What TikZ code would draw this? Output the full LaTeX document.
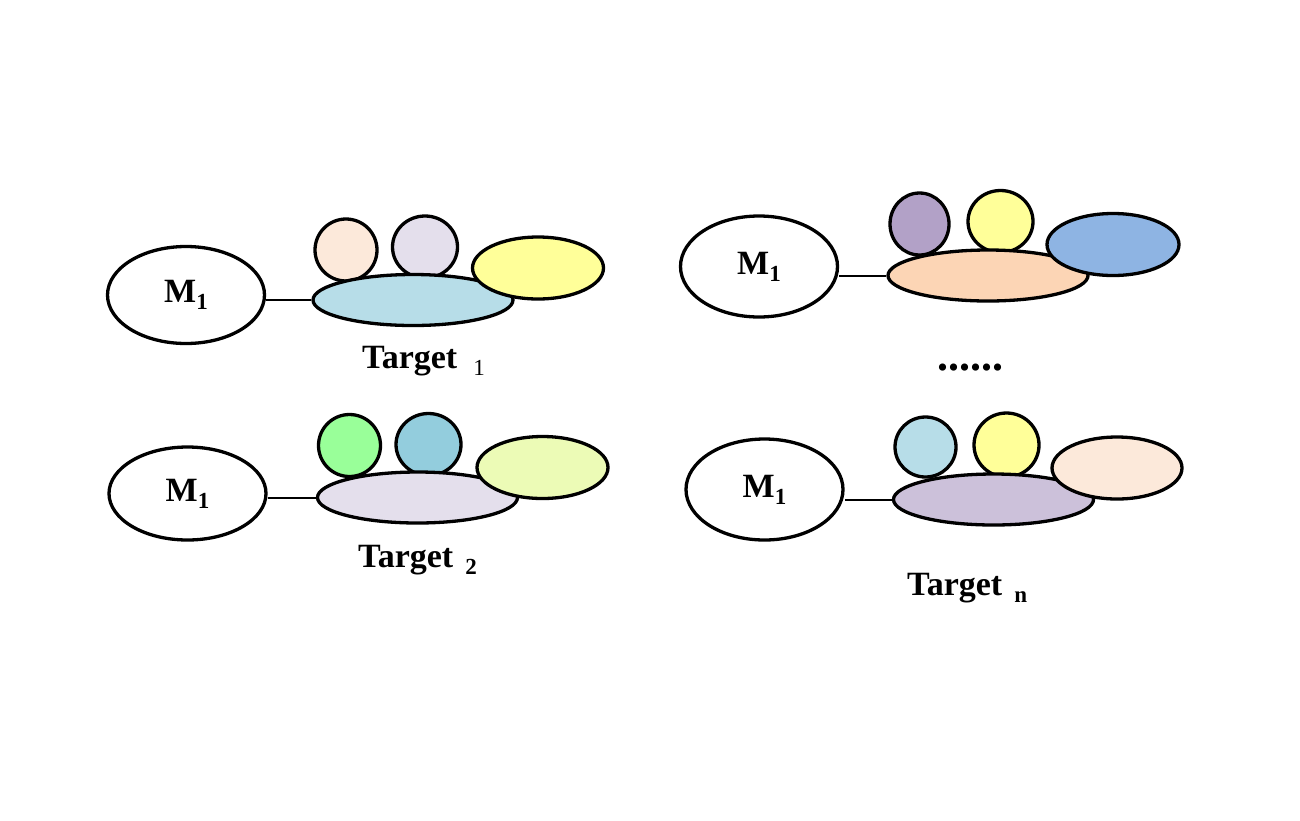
\documentclass[tikz,border=0pt]{standalone}
\usepackage{fontspec}
\setmainfont{Liberation Serif}
\usetikzlibrary{shapes.geometric,positioning}
\definecolor{cPeach}{RGB}{252,233,218}
\definecolor{cLav}{RGB}{228,223,236}
\definecolor{cSky}{RGB}{183,221,232}
\definecolor{cLemon}{RGB}{255,255,153}
\definecolor{cPlum}{RGB}{178,161,199}
\definecolor{cApricot}{RGB}{252,213,181}
\definecolor{cCorn}{RGB}{142,180,227}
\definecolor{cMint}{RGB}{153,255,153}
\definecolor{cTeal}{RGB}{147,205,221}
\definecolor{cLime}{RGB}{236,251,182}
\definecolor{cLilac}{RGB}{204,193,218}
\newcommand{\subidx}[1]{\raisebox{-7pt}{\fontsize{23}{26}\selectfont #1}}
\tikzset{
  partell/.style={ellipse,draw=black,line width=3.3pt,inner sep=0pt},
  modnode/.style={partell,fill=white,minimum width=157pt,minimum height=97pt,
                  font=\fontsize{34}{40}\selectfont\bfseries},
  basenode/.style={partell,minimum width=200pt,minimum height=51pt},
  ballnode/.style={partell,minimum width=62pt,minimum height=62pt},
  sidenode/.style={partell,minimum width=131pt,minimum height=62pt},
  tgtlabel/.style={anchor=base west,inner sep=0pt,
                   font=\fontsize{34}{40}\selectfont\bfseries},
  lnk/.style={draw=black,line width=2pt}
}

\begin{document}
\begin{tikzpicture}[x=1pt,y=-1pt]
  \useasboundingbox[fill=white] (0,0) rectangle (1300,820);

  % target 1
  \node[ballnode,fill=cPeach] (a1) at (346,250) {};
  \node[ballnode,fill=cLav,minimum width=65pt] (a2) at (425,247) {};
  \node[basenode,fill=cSky] (ba) at (413,300) {};
  \node[sidenode,fill=cLemon] (a3) at (538,268) {};
  \node[modnode] (ma) at (186,295) {M\subidx{1}};
  \node[tgtlabel] (ta) at (362,368) {Target\hspace{16pt}\subidx{\mdseries 1}};

  % target 2
  \node[ballnode,fill=cMint] (b1) at (349.5,445.5) {};
  \node[ballnode,fill=cTeal,minimum width=65pt] (b2) at (428.5,444.5) {};
  \node[basenode,fill=cLav] (bb) at (417.5,497.5) {};
  \node[sidenode,fill=cLime] (b3) at (542.5,467.5) {};
  \node[modnode,minimum height=93pt] (mb) at (187.5,493.5) {M\subidx{1}};
  \node[tgtlabel] (tb) at (358,567) {Target\hspace{12pt}\subidx{2}};

  % first of the right column
  \node[ballnode,fill=cPlum,minimum width=59pt] (c1) at (919.5,224) {};
  \node[ballnode,fill=cLemon,minimum width=65pt] (c2) at (1000.5,221.5) {};
  \node[basenode,fill=cApricot] (bc) at (988,275.5) {};
  \node[sidenode,fill=cCorn,minimum width=132pt] (c3) at (1113,244.5) {};
  \node[modnode,minimum height=101pt] (mc) at (759,266.5) {M\subidx{1}};
  \node[anchor=base,inner sep=0pt,font=\fontsize{44}{50}\selectfont\bfseries]
      (dots) at (970,370) {......};

  % target n
  \node[ballnode,fill=cSky,minimum width=61pt,minimum height=60pt] (d1) at (925.5,447) {};
  \node[ballnode,fill=cLemon,minimum width=65pt,minimum height=64pt] (d2) at (1006.5,445) {};
  \node[basenode,fill=cLilac] (bd) at (993.5,499.5) {};
  \node[sidenode,fill=cPeach,minimum width=130pt] (d3) at (1117,468) {};
  \node[modnode,minimum height=101pt] (md) at (764.5,489.5) {M\subidx{1}};
  \node[tgtlabel] (td) at (907,595) {Target\hspace{12pt}\subidx{n}};

  \foreach \m/\b in {ma/ba,mb/bb,mc/bc,md/bd}
    \draw[lnk] (\b.west) -- (\b.west -| \m.east);

\end{tikzpicture}
\end{document}
